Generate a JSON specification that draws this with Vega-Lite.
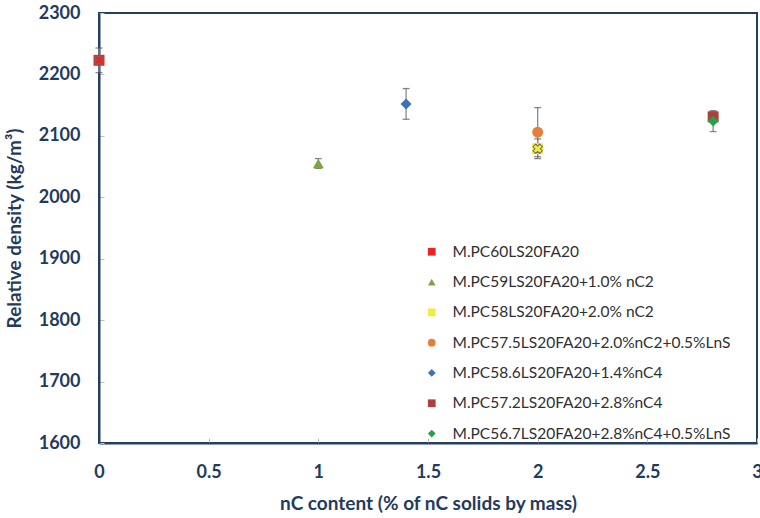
{
  "$schema": "https://vega.github.io/schema/vega-lite/v6.json",
  "width": 658,
  "height": 430,
  "autosize": {"type": "none"},
  "padding": {"left": 99, "top": 13, "right": 3, "bottom": 75},
  "background": "white",
  "config": {
    "font": "Lato",
    "view": {"stroke": "#243f60", "strokeWidth": 2},
    "axis": {
      "domainColor": "#243f60",
      "domainWidth": 2,
      "labelColor": "#1f3b5e",
      "labelFont": "Lato",
      "labelFontWeight": "bold",
      "labelFontSize": 18,
      "titleColor": "#1f3b5e",
      "titleFont": "Lato",
      "titleFontWeight": "bold",
      "titleFontSize": 19,
      "tickColor": "#bfbfbf",
      "tickSize": -5,
      "grid": false
    },
    "legend": {
      "labelFont": "Lato",
      "labelFontSize": 15.5,
      "labelColor": "#303030",
      "labelOffset": 13,
      "rowPadding": 13.3,
      "symbolSize": 60,
      "labelLimit": 400
    }
  },
  "data": {
    "values": [
      {"series": "M.PC60LS20FA20", "x": 0, "y": 2223, "err": 20},
      {"series": "M.PC59LS20FA20+1.0% nC2", "x": 1, "y": 2055, "err": 8},
      {"series": "M.PC58LS20FA20+2.0% nC2", "x": 2, "y": 2079, "err": 16},
      {"series": "M.PC57.5LS20FA20+2.0%nC2+0.5%LnS", "x": 2, "y": 2106, "err": 40},
      {"series": "M.PC58.6LS20FA20+1.4%nC4", "x": 1.4, "y": 2152, "err": 25},
      {"series": "M.PC57.2LS20FA20+2.8%nC4", "x": 2.8, "y": 2131, "err": 8},
      {"series": "M.PC56.7LS20FA20+2.8%nC4+0.5%LnS", "x": 2.8, "y": 2124, "err": 17}
    ]
  },
  "transform": [
    {"calculate": "datum.y - datum.err", "as": "lo"},
    {"calculate": "datum.y + datum.err", "as": "hi"}
  ],
  "encoding": {
    "x": {
      "field": "x",
      "type": "quantitative",
      "scale": {"domain": [0, 3], "nice": false, "zero": false},
      "axis": {
        "values": [0, 0.5, 1, 1.5, 2, 2.5, 3],
        "format": "~g",
        "title": "nC content (% of nC solids by mass)",
        "labelPadding": 25,
        "titlePadding": 13,
        "labelFlush": false
      }
    }
  },
  "layer": [
    {
      "mark": {"type": "rule", "color": "#8c8c8c", "strokeWidth": 1.3},
      "encoding": {
        "y": {"field": "lo", "type": "quantitative"},
        "y2": {"field": "hi"}
      }
    },
    {
      "mark": {"type": "tick", "orient": "horizontal", "color": "#595959", "size": 7, "thickness": 1.3},
      "encoding": {"y": {"field": "lo", "type": "quantitative"}}
    },
    {
      "mark": {"type": "tick", "orient": "horizontal", "color": "#595959", "size": 7, "thickness": 1.3},
      "encoding": {"y": {"field": "hi", "type": "quantitative"}}
    },
    {
      "mark": {"type": "point", "filled": true, "opacity": 1},
      "encoding": {
        "y": {
          "field": "y",
          "type": "quantitative",
          "scale": {"domain": [1600, 2300], "nice": false, "zero": false},
          "axis": {
            "values": [1600, 1700, 1800, 1900, 2000, 2100, 2200, 2300],
            "format": "d",
            "title": "Relative density (kg/m³)",
            "labelPadding": 24,
            "titlePadding": 14
          }
        },
        "color": {
          "field": "series",
          "type": "nominal",
          "sort": null,
          "scale": {
            "domain": [
              "M.PC60LS20FA20",
              "M.PC59LS20FA20+1.0% nC2",
              "M.PC58LS20FA20+2.0% nC2",
              "M.PC57.5LS20FA20+2.0%nC2+0.5%LnS",
              "M.PC58.6LS20FA20+1.4%nC4",
              "M.PC57.2LS20FA20+2.8%nC4",
              "M.PC56.7LS20FA20+2.8%nC4+0.5%LnS"
            ],
            "range": ["#ec2327", "#7fa446", "#f3ec3f", "#e2803a", "#3d72b4", "#b03f3b", "#22a24c"]
          },
          "legend": {
            "title": null,
            "orient": "none",
            "legendX": 325,
            "legendY": 231
          }
        },
        "shape": {
          "field": "series",
          "type": "nominal",
          "sort": null,
          "scale": {
            "domain": [
              "M.PC60LS20FA20",
              "M.PC59LS20FA20+1.0% nC2",
              "M.PC58LS20FA20+2.0% nC2",
              "M.PC57.5LS20FA20+2.0%nC2+0.5%LnS",
              "M.PC58.6LS20FA20+1.4%nC4",
              "M.PC57.2LS20FA20+2.8%nC4",
              "M.PC56.7LS20FA20+2.8%nC4+0.5%LnS"
            ],
            "range": ["square", "triangle-up", "square", "circle", "diamond", "square", "diamond"]
          },
          "legend": null
        },
        "size": {"value": 120}
      }
    },
    {
      "transform": [{"filter": "datum.series === 'M.PC58LS20FA20+2.0% nC2' || datum.series === 'M.PC60LS20FA20'"}],
      "mark": {"type": "point", "shape": "cross", "angle": 45, "filled": false, "color": "#6b6b6b", "strokeWidth": 1, "size": 90, "opacity": 1},
      "encoding": {"y": {"field": "y", "type": "quantitative"}}
    }
  ]
}
